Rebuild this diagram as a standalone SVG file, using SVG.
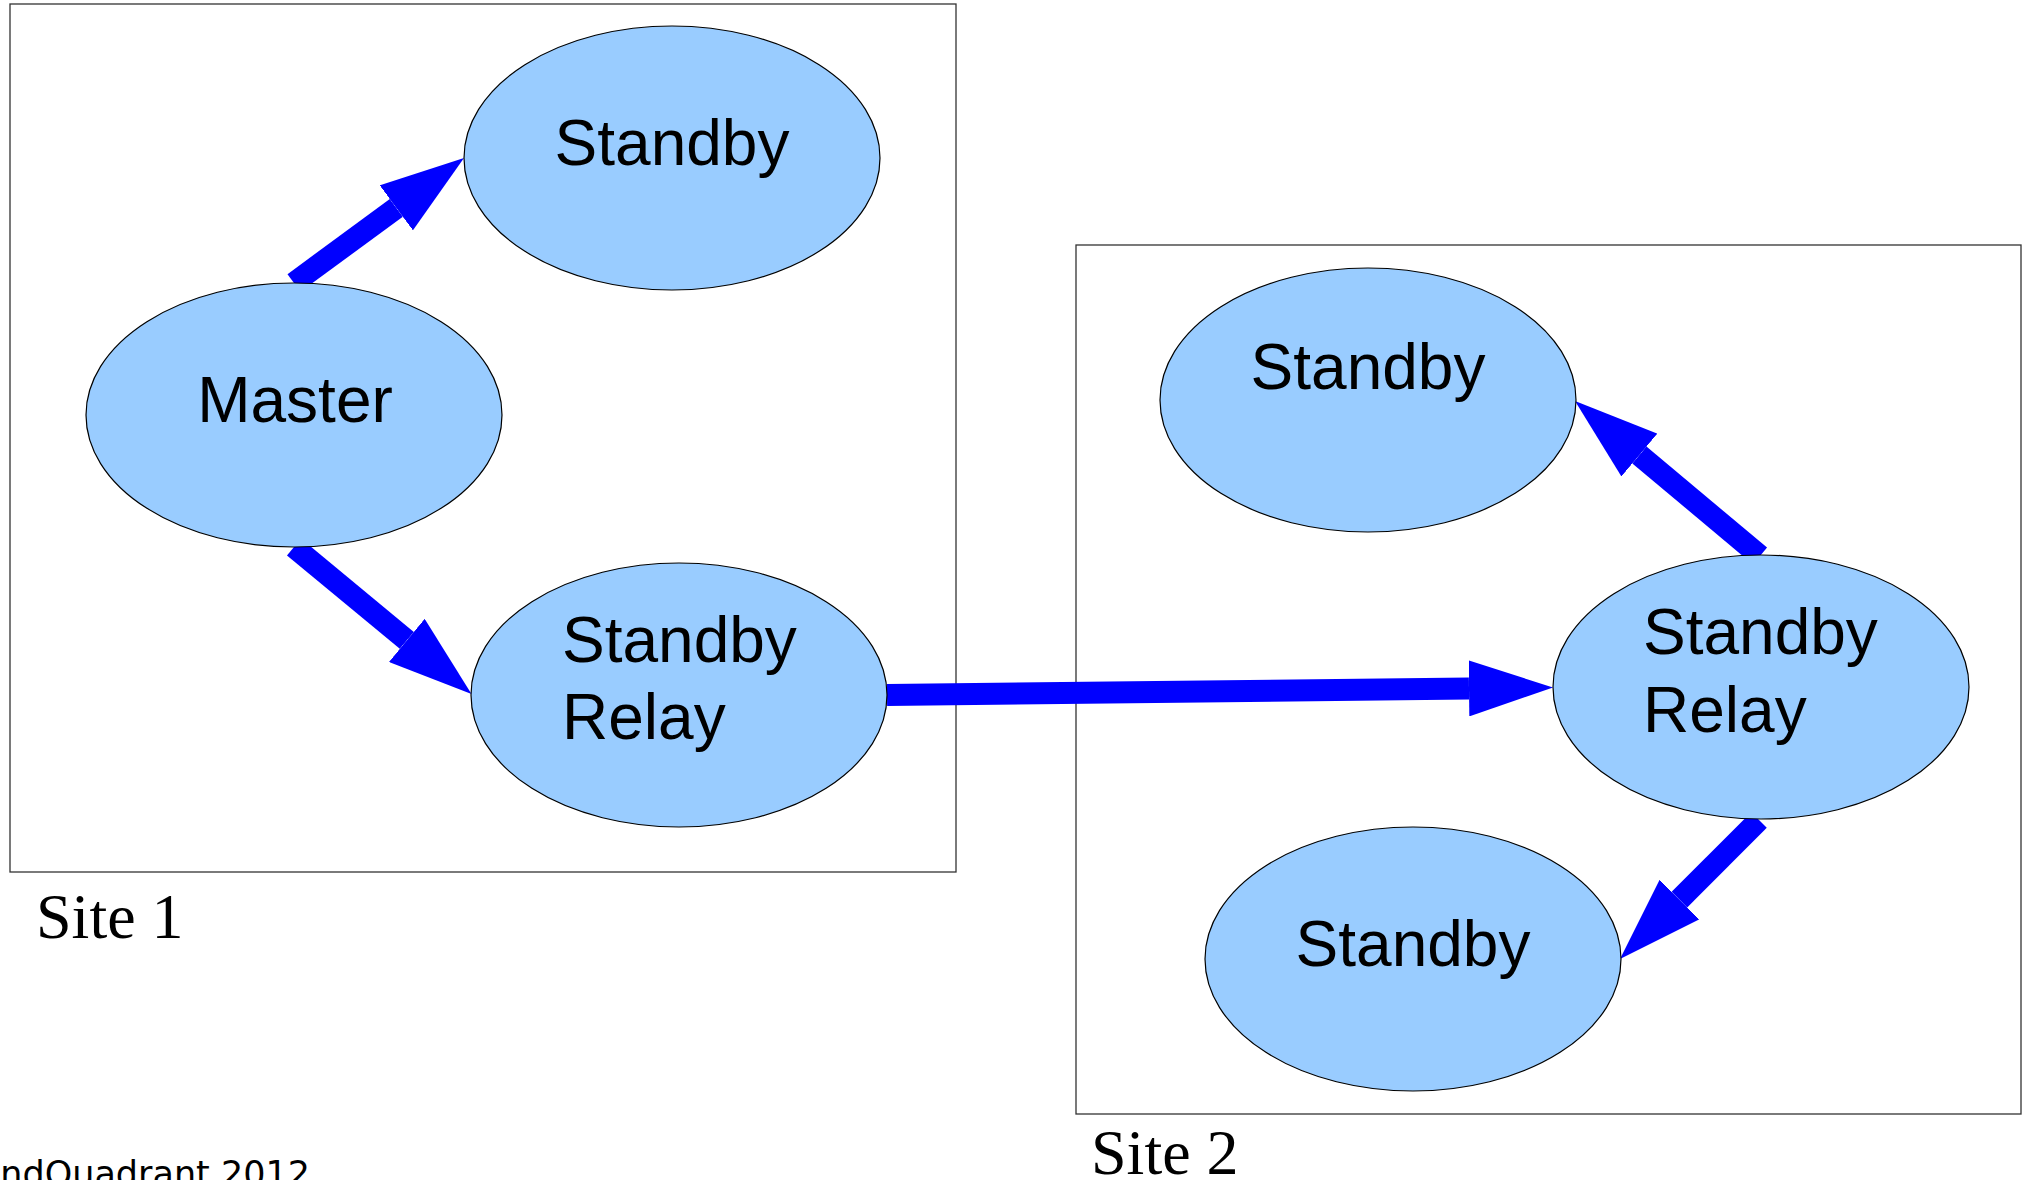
<svg xmlns="http://www.w3.org/2000/svg" width="2031" height="1180" viewBox="0 0 2031 1180">
<style>
.site{fill:none;stroke:#333;stroke-width:1.3}
.node{fill:#99ccff;stroke:#000;stroke-width:1.2}
.lbl{font-family:"Liberation Sans",Arial,sans-serif;font-size:64px;fill:#000}
.sitelbl{font-family:"Liberation Serif","Times New Roman",serif;font-size:64px;fill:#000}
.foot{font-family:"DejaVu Sans",sans-serif;font-size:35px;fill:#000}
.arrow{stroke:#0000ff;stroke-width:22;fill:none;marker-end:url(#head)}
</style>
<defs>
<marker id="head" markerUnits="userSpaceOnUse" markerWidth="84" markerHeight="56" viewBox="0 0 84 56" refX="0" refY="28" orient="auto">
<path d="M0,0 L84,28 L0,56 z" fill="#0000ff"/>
</marker>
</defs>
<rect width="2031" height="1180" fill="#fff"/>
<g id="site1">
<rect class="site" x="10" y="4" width="946" height="868"/>
<text class="sitelbl" x="36" y="938">Site 1</text>
</g>
<g id="site2">
<rect class="site" x="1076" y="245" width="945" height="869"/>
<text class="sitelbl" x="1091" y="1174">Site 2</text>
</g>
<g id="connectors">
<line class="arrow" x1="294" y1="283" x2="396.3" y2="207.8"/>
<line class="arrow" x1="294" y1="547" x2="406.8" y2="640.4"/>
<line class="arrow" x1="887" y1="695" x2="1469" y2="688.4"/>
<line class="arrow" x1="1760" y1="556" x2="1639.4" y2="455"/>
<line class="arrow" x1="1759" y1="820" x2="1679.4" y2="899.6"/>
</g>
<g id="s1-standby">
<ellipse class="node" cx="672" cy="158" rx="208" ry="132"/>
<text class="lbl" x="672" y="165" text-anchor="middle">Standby</text>
</g>
<g id="master">
<ellipse class="node" cx="294" cy="415" rx="208" ry="132"/>
<text class="lbl" x="295" y="422" text-anchor="middle">Master</text>
</g>
<g id="s1-relay">
<ellipse class="node" cx="679" cy="695" rx="208" ry="132"/>
<text class="lbl" x="562" y="662">Standby</text>
<text class="lbl" x="562" y="739">Relay</text>
</g>
<g id="s2-standby-top">
<ellipse class="node" cx="1368" cy="400" rx="208" ry="132"/>
<text class="lbl" x="1368" y="389" text-anchor="middle">Standby</text>
</g>
<g id="s2-relay">
<ellipse class="node" cx="1761" cy="687" rx="208" ry="132"/>
<text class="lbl" x="1643" y="654">Standby</text>
<text class="lbl" x="1643" y="732">Relay</text>
</g>
<g id="s2-standby-bottom">
<ellipse class="node" cx="1413" cy="959" rx="208" ry="132"/>
<text class="lbl" x="1413" y="966" text-anchor="middle">Standby</text>
</g>
<text class="foot" x="-22" y="1186">2ndQuadrant 2012</text>
</svg>
